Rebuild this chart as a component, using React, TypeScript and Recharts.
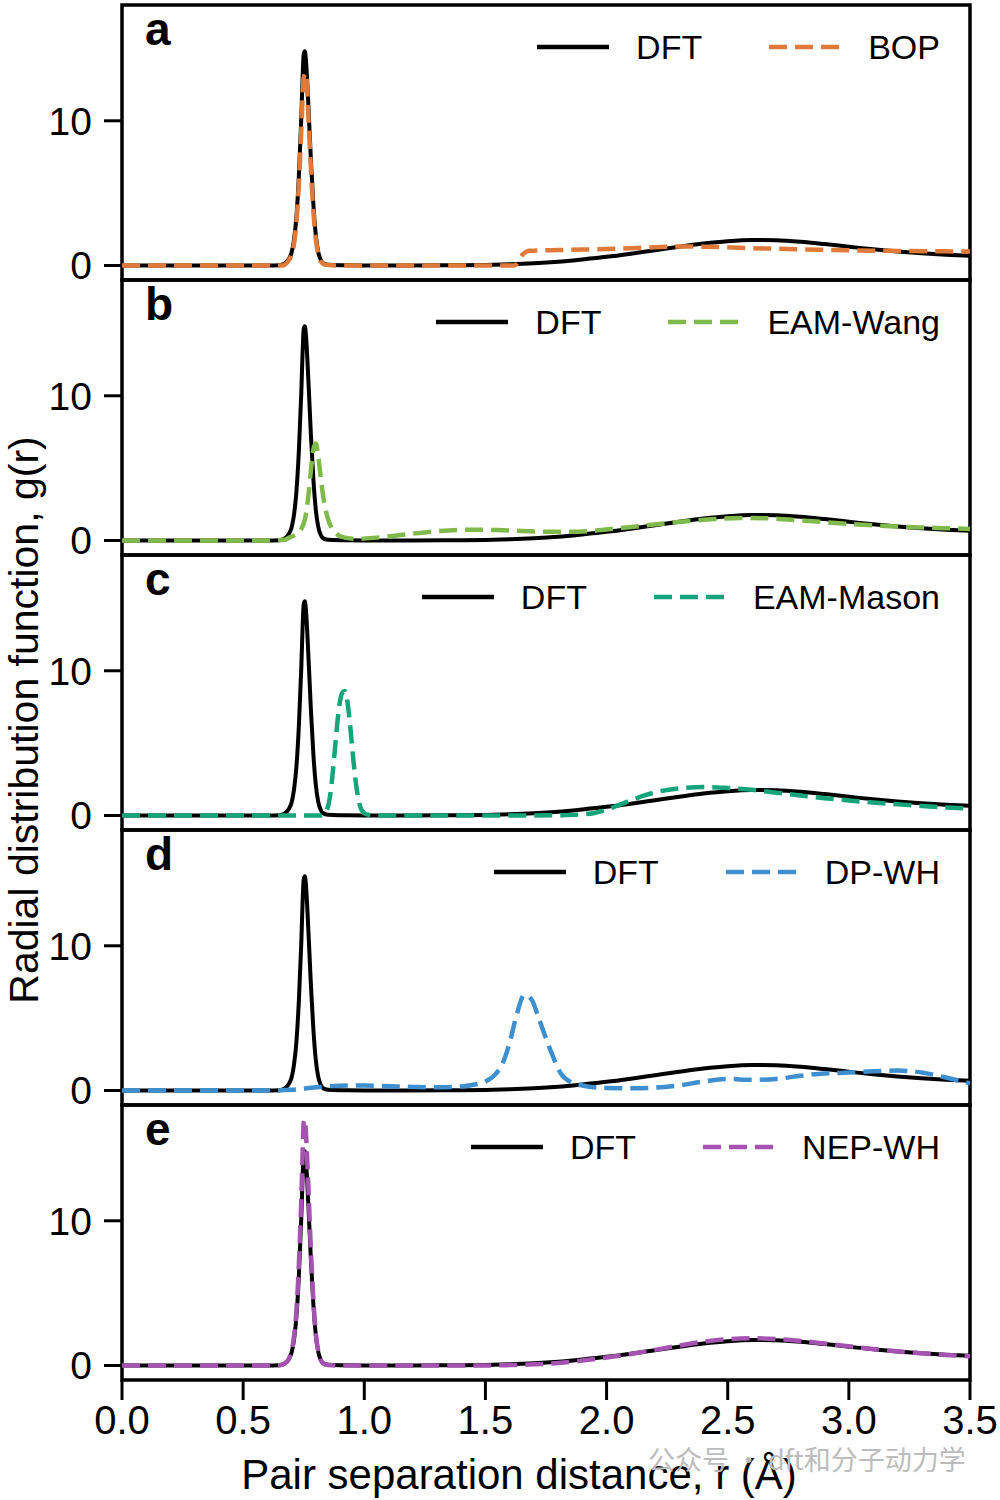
import { LineChart, Line, XAxis, YAxis, Legend, ReferenceArea } from 'recharts'

const FONT = '"Liberation Sans", Arial, sans-serif'

// DFT reference curve (same in every panel)
const dftR = [0, 0.6, 0.65, 0.67, 0.69, 0.7, 0.71, 0.72, 0.73, 0.74, 0.745, 0.75, 0.755, 0.76, 0.77, 0.78, 0.79, 0.8, 0.81, 0.82, 0.83, 0.85, 0.9, 1.0, 1.2, 1.4, 1.5, 1.6, 1.7, 1.8, 1.9, 2.0, 2.1, 2.2, 2.3, 2.4, 2.5, 2.6, 2.7, 2.8, 2.9, 3.0, 3.1, 3.2, 3.3, 3.4, 3.5]
const dftG = [0, 0, 0.02, 0.12, 0.5, 0.9, 1.8, 3.4, 6.2, 10.2, 12.8, 14.6, 14.8, 14.0, 10.8, 7.2, 4.2, 2.1, 0.95, 0.4, 0.16, 0.05, 0.02, 0.01, 0.01, 0.02, 0.04, 0.08, 0.15, 0.26, 0.42, 0.6, 0.82, 1.06, 1.3, 1.52, 1.68, 1.76, 1.74, 1.64, 1.48, 1.3, 1.12, 0.97, 0.85, 0.75, 0.68]

const bopR = [0, 0.66, 0.69, 0.71, 0.72, 0.73, 0.74, 0.75, 0.76, 0.77, 0.78, 0.79, 0.8, 0.81, 0.82, 0.84, 0.9, 1.62, 1.65, 1.68, 1.8, 1.9, 2.0, 2.1, 2.2, 2.3, 2.4, 2.5, 2.6, 2.7, 2.8, 2.9, 3.0, 3.2, 3.4, 3.5]
const bopG = [0, 0, 0.4, 1.5, 3.0, 5.6, 9.3, 13.0, 13.3, 10.0, 6.6, 3.7, 1.8, 0.8, 0.3, 0.06, 0, 0, 0.7, 1.02, 1.07, 1.1, 1.14, 1.19, 1.26, 1.31, 1.3, 1.26, 1.2, 1.16, 1.12, 1.08, 1.05, 1.01, 0.98, 0.97]

const wangR = [0, 0.62, 0.67, 0.69, 0.72, 0.74, 0.76, 0.77, 0.78, 0.79, 0.8, 0.81, 0.82, 0.83, 0.85, 0.87, 0.89, 0.92, 0.97, 1.05, 1.15, 1.25, 1.35, 1.45, 1.55, 1.65, 1.75, 1.85, 1.95, 2.05, 2.15, 2.25, 2.35, 2.45, 2.55, 2.65, 2.75, 2.85, 3.0, 3.1, 3.2, 3.3, 3.4, 3.5]
const wangG = [0, 0, 0.05, 0.2, 0.45, 0.8, 1.9, 3.2, 4.9, 6.3, 6.7, 5.8, 4.4, 3.1, 1.5, 0.75, 0.4, 0.2, 0.12, 0.2, 0.38, 0.56, 0.7, 0.75, 0.72, 0.66, 0.6, 0.6, 0.68, 0.85, 1.02, 1.2, 1.36, 1.48, 1.55, 1.54, 1.45, 1.33, 1.15, 1.05, 0.97, 0.9, 0.85, 0.8]

const masonR = [0, 0.82, 0.84, 0.86, 0.87, 0.88, 0.89, 0.9, 0.91, 0.92, 0.93, 0.94, 0.95, 0.96, 0.97, 0.98, 0.99, 1.01, 1.05, 1.7, 1.8, 1.9, 1.95, 2.0, 2.05, 2.1, 2.15, 2.2, 2.3, 2.4, 2.5, 2.6, 2.7, 2.8, 2.9, 3.0, 3.1, 3.2, 3.3, 3.4, 3.5]
const masonG = [0, 0, 0.2, 1.5, 3.0, 4.8, 6.6, 7.9, 8.5, 8.6, 7.9, 6.5, 4.7, 3.0, 1.7, 0.8, 0.35, 0.08, 0, 0, 0.02, 0.08, 0.18, 0.4, 0.72, 1.05, 1.35, 1.6, 1.88, 1.97, 1.9, 1.78, 1.58, 1.38, 1.2, 1.04, 0.9, 0.78, 0.66, 0.56, 0.48]

const dpR = [0, 0.6, 0.7, 0.8, 0.9, 1.0, 1.1, 1.2, 1.3, 1.4, 1.45, 1.5, 1.54, 1.57, 1.6, 1.63, 1.66, 1.69, 1.72, 1.75, 1.78, 1.81, 1.85, 1.9, 2.0, 2.1, 2.2, 2.3, 2.4, 2.5, 2.6, 2.7, 2.8, 2.9, 3.0, 3.1, 3.2, 3.3, 3.4, 3.5]
const dpG = [0, 0, 0.05, 0.22, 0.33, 0.35, 0.3, 0.25, 0.22, 0.28, 0.4, 0.62, 1.1, 1.85, 3.3, 5.3, 6.6, 6.3, 5.0, 3.6, 2.3, 1.2, 0.6, 0.35, 0.18, 0.16, 0.2, 0.36, 0.62, 0.8, 0.74, 0.8, 1.02, 1.18, 1.24, 1.33, 1.38, 1.25, 0.9, 0.5]

const nepR = [0, 0.6, 0.65, 0.67, 0.69, 0.7, 0.71, 0.72, 0.73, 0.74, 0.745, 0.75, 0.755, 0.76, 0.77, 0.78, 0.79, 0.8, 0.81, 0.82, 0.83, 0.85, 0.9, 1.5, 1.6, 1.7, 1.8, 1.9, 2.0, 2.1, 2.2, 2.3, 2.4, 2.5, 2.6, 2.7, 2.8, 2.9, 3.0, 3.1, 3.2, 3.3, 3.4, 3.5]
const nepG = [0, 0, 0.02, 0.12, 0.5, 1.0, 2.0, 3.8, 7.0, 11.5, 14.4, 16.8, 17.0, 15.8, 12.0, 7.8, 4.5, 2.2, 1.0, 0.4, 0.15, 0.04, 0, 0, 0.03, 0.08, 0.18, 0.34, 0.55, 0.8, 1.08, 1.38, 1.64, 1.82, 1.88, 1.83, 1.7, 1.52, 1.33, 1.14, 0.98, 0.85, 0.73, 0.64]

const letters = ['a', 'b', 'c', 'd', 'e']
const models = ['BOP', 'EAM-Wang', 'EAM-Mason', 'DP-WH', 'NEP-WH']
const colors = ['#e07a3a', '#80ba4c', '#16a47b', '#3d8fd0', '#a553b0']
const modelR = [bopR, wangR, masonR, dpR, nepR]
const modelG = [bopG, wangG, masonG, dpG, nepG]

const xTicks = [0, 0.5, 1, 1.5, 2, 2.5, 3, 3.5]
const yTicks = [0, 10]

const zip = (rs: number[], gs: number[]) => rs.map((r, i) => ({ r, g: gs[i] }))
const dftData = zip(dftR, dftG)

const PANEL_H = 275
const DASH = '18 8'

function PanelLegend({ name, color }: { name: string; color: string }) {
    return (
        <div style={{ display: 'flex', alignItems: 'center', fontFamily: FONT, fontSize: 34, color: '#000', lineHeight: '40px', whiteSpace: 'nowrap' }}>
            <svg width={72} height={10}>
                <line x1={0} y1={5} x2={72} y2={5} stroke='#000' strokeWidth={4.5} />
            </svg>
            <span style={{ marginLeft: 27 }}>DFT</span>
            <svg width={72} height={10} style={{ marginLeft: 67 }}>
                <line x1={0} y1={5} x2={72} y2={5} stroke={color} strokeWidth={4.5} strokeDasharray={DASH} />
            </svg>
            <span style={{ marginLeft: 27 }}>{name}</span>
        </div>
    )
}

function Panel({ index }: { index: number }) {
    const last = index === letters.length - 1
    const height = last ? 400 : PANEL_H + 25
    const data = zip(modelR[index], modelG[index])
    const letter = letters[index]

    return (
        <div style={{ position: 'absolute', left: 0, top: PANEL_H * index }}>
            <LineChart width={1000} height={height} margin={{ top: 5, right: 30, bottom: last ? 5 : 20, left: 0 }}>
                <XAxis
                    dataKey='r'
                    type='number'
                    domain={[0, 3.5]}
                    ticks={xTicks}
                    interval={0}
                    allowDataOverflow
                    hide={!last}
                    height={115}
                    axisLine={false}
                    tickSize={20}
                    tickMargin={6}
                    tickLine={{ stroke: '#000', strokeWidth: 3 }}
                    tick={{ fill: '#000', fontSize: 40, fontFamily: FONT }}
                    tickFormatter={(v: number) => v.toFixed(1)}
                    label={{
                        content: (p: any) => (
                            <text
                                x={p.viewBox.x + p.viewBox.width / 2 - 27}
                                y={p.viewBox.y + p.viewBox.height - 6}
                                textAnchor='middle'
                                fontSize={42}
                                fontFamily={FONT}
                                fill='#000'
                            >
                                Pair separation distance, r (Å)
                            </text>
                        ),
                    }}
                />
                <YAxis
                    type='number'
                    domain={[-1, 18]}
                    ticks={yTicks}
                    interval={0}
                    allowDataOverflow
                    width={122}
                    axisLine={false}
                    tickSize={18}
                    tickMargin={12}
                    tickLine={{ stroke: '#000', strokeWidth: 3 }}
                    tick={{ fill: '#000', fontSize: 39, fontFamily: FONT }}
                />
                <ReferenceArea
                    x1={0}
                    x2={3.5}
                    y1={-1}
                    y2={18}
                    fill='none'
                    fillOpacity={0}
                    stroke='#000'
                    strokeWidth={3.5}
                    ifOverflow='visible'
                    label={{
                        content: (p: any) => (
                            <text x={p.viewBox.x + 23} y={p.viewBox.y + 40} fontSize={46} fontWeight='bold' fontFamily={FONT} fill='#000'>
                                {letter}
                            </text>
                        ),
                    }}
                />
                <Line data={dftData} dataKey='g' type='monotone' stroke='#000' strokeWidth={4} dot={false} isAnimationActive={false} />
                <Line data={data} dataKey='g' type='monotone' stroke={colors[index]} strokeWidth={4.5} strokeDasharray={DASH} dot={false} isAnimationActive={false} />
                <Legend
                    layout='vertical'
                    align='center'
                    verticalAlign='middle'
                    wrapperStyle={{ top: 27, right: 60, left: 'auto', width: 'auto', height: 40 }}
                    content={() => <PanelLegend name={models[index]} color={colors[index]} />}
                />
            </LineChart>
        </div>
    )
}

export default function App() {
    return (
        <div style={{ position: 'absolute', left: 0, top: 0, width: 1000, height: 1500, background: '#fff' }}>
            {letters.map((_, i) => (
                <Panel key={letters[i]} index={i} />
            ))}
            <svg width={1000} height={1500} style={{ position: 'absolute', left: 0, top: 0, pointerEvents: 'none' }}>
                <text transform='translate(38,720) rotate(-90)' textAnchor='middle' fontSize={41} fontFamily={FONT} fill='#000'>
                    Radial distribution function, g(r)
                </text>
                <text x={648} y={1470} fontSize={27} fontFamily='"Noto Sans CJK SC", sans-serif' fill='#bcbcbc'>
                    公众号 · dft和分子动力学
                </text>
            </svg>
        </div>
    )
}
